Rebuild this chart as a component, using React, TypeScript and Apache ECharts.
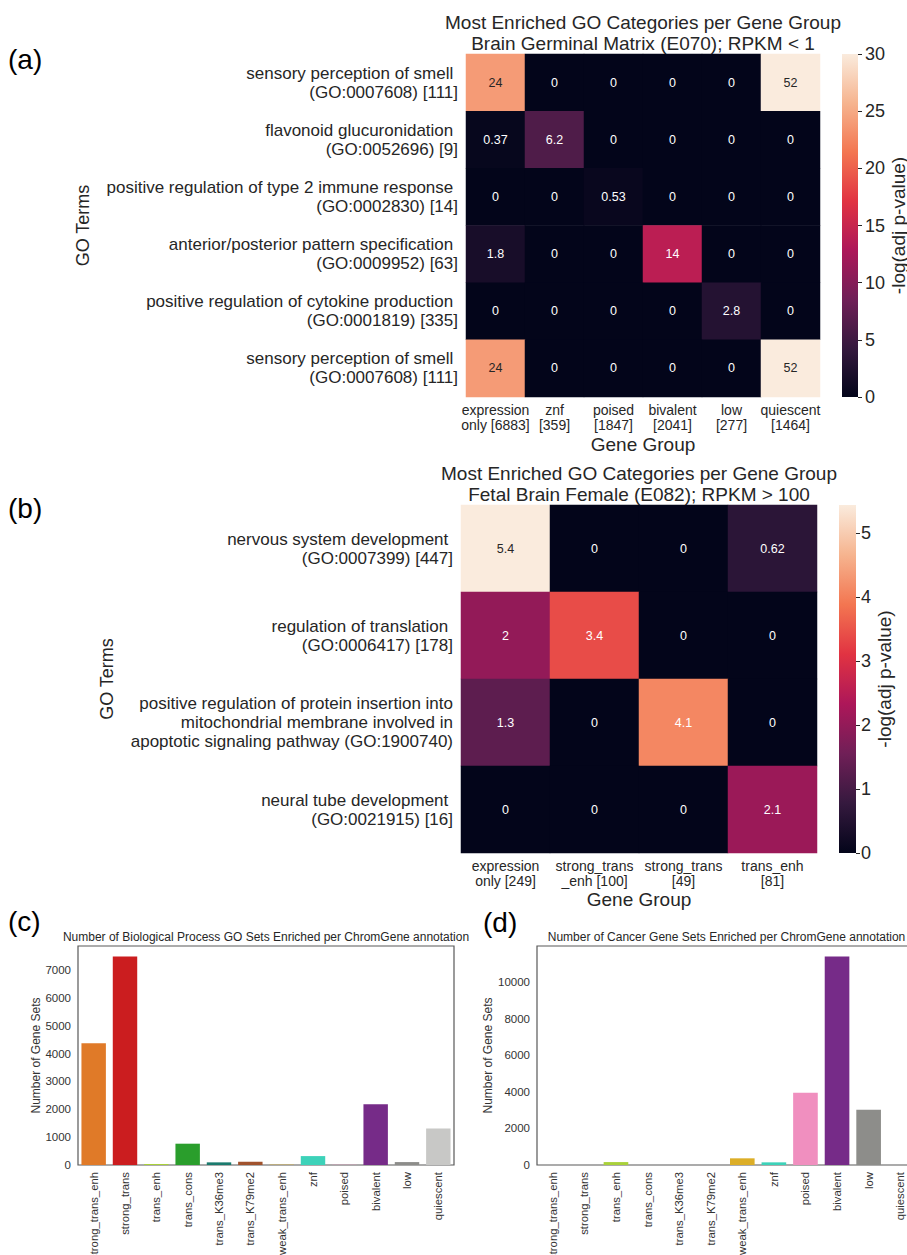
import React, { useEffect, useRef } from "react";
import * as echarts from "echarts";

const FONT = "'Liberation Sans', Arial, Helvetica, sans-serif";
const TEXT = "#262626";
const AXIS_TEXT = "#333333";

// seaborn "rocket" colormap, sampled evenly (0, 1/7, ..., 1)
const rocketStops = ["#03051a", "#35193e", "#701f57", "#ad1759", "#e13342", "#f37651", "#f6b48f", "#faebdd"];

// ---- Panel (a) ----
const aGroups = [
  "expression\nonly [6883]",
  "znf\n[359]",
  "poised\n[1847]",
  "bivalent\n[2041]",
  "low\n[277]",
  "quiescent\n[1464]",
];
const aTerms = [
  "sensory perception of smell \n(GO:0007608) [111]",
  "flavonoid glucuronidation \n(GO:0052696) [9]",
  "positive regulation of type 2 immune response \n(GO:0002830) [14]",
  "anterior/posterior pattern specification \n(GO:0009952) [63]",
  "positive regulation of cytokine production \n(GO:0001819) [335]",
  "sensory perception of smell \n(GO:0007608) [111]",
];
const aValues = [
  [24, 0, 0, 0, 0, 52],
  [0.37, 6.2, 0, 0, 0, 0],
  [0, 0, 0.53, 0, 0, 0],
  [1.8, 0, 0, 14, 0, 0],
  [0, 0, 0, 0, 2.8, 0],
  [24, 0, 0, 0, 0, 52],
];
const aColorMax = 30;
const aColorTicks = [0, 5, 10, 15, 20, 25, 30];

// ---- Panel (b) ----
const bGroups = ["expression\nonly [249]", "strong_trans\n_enh [100]", "strong_trans\n[49]", "trans_enh\n[81]"];
const bTerms = [
  "nervous system development \n(GO:0007399) [447]",
  "regulation of translation \n(GO:0006417) [178]",
  "positive regulation of protein insertion into\nmitochondrial membrane involved in\napoptotic signaling pathway (GO:1900740)",
  "neural tube development \n(GO:0021915) [16]",
];
const bValues = [
  [5.44, 0, 0, 0.62],
  [2, 3.4, 0, 0],
  [1.3, 0, 4.1, 0],
  [0, 0, 0, 2.1],
];
const bColorMax = 5.44;
const bColorTicks = [0, 1, 2, 3, 4, 5];

// ---- Panels (c) and (d) ----
const chromCategories = [
  "strong_trans_enh", "strong_trans", "trans_enh", "trans_cons", "trans_K36me3", "trans_K79me2",
  "weak_trans_enh", "znf", "poised", "bivalent", "low", "quiescent",
];
const chromColors = [
  "#e07a28", "#cb1d1f", "#a9d13a", "#2a9e2c", "#1b7a6e", "#a0522d",
  "#dcae27", "#3dd2b9", "#f08fbf", "#762b88", "#8d8d8a", "#c8c8c6",
];
const goSetCounts = [4370, 7490, 35, 765, 95, 115, 12, 320, 8, 2180, 105, 1315];
const cancerSetCounts = [0, 0, 160, 0, 0, 0, 365, 145, 3950, 11400, 3020, 0];

const fmt2g = (v: number) => String(Number(v.toPrecision(2)));

function heatData(values: number[][], vmax: number) {
  const out: any[] = [];
  values.forEach((row, r) =>
    row.forEach((v, c) => {
      out.push({ value: [c, r, v], label: { color: v / vmax > 0.78 ? TEXT : "#ffffff" } });
    })
  );
  return out;
}

function buildOption() {
  const makeGradient = () =>
    new echarts.graphic.LinearGradient(
      0, 1, 0, 0,
      rocketStops.map((c, i) => ({ offset: i / (rocketStops.length - 1), color: c }))
    );

  const heatXAxis = (gridIndex: number, data: string[], gap: number) => ({
    type: "category",
    gridIndex,
    data,
    position: "bottom",
    axisLine: { show: false },
    axisTick: { show: false },
    splitLine: { show: false },
    axisLabel: { interval: 0, fontSize: 14, lineHeight: 15, color: TEXT, fontFamily: FONT, margin: 5 },
    name: "Gene Group",
    nameLocation: "middle",
    nameGap: gap,
    nameTextStyle: { fontSize: 19, color: TEXT, fontFamily: FONT },
  });
  const heatYAxis = (gridIndex: number, data: string[], gap: number) => ({
    type: "category",
    gridIndex,
    data,
    inverse: true,
    axisLine: { show: false },
    axisTick: { show: false },
    splitLine: { show: false },
    axisLabel: { interval: 0, fontSize: 17, lineHeight: 19, color: TEXT, fontFamily: FONT, margin: 8 },
    name: "GO Terms",
    nameLocation: "middle",
    nameRotate: 90,
    nameGap: gap,
    nameTextStyle: { fontSize: 18, color: TEXT, fontFamily: FONT },
  });
  const cbYAxis = (gridIndex: number, max: number, ticks: number[], gap: number, margin: number) => ({
    type: "value",
    gridIndex,
    position: "right",
    min: 0,
    max,
    axisLine: { show: false },
    splitLine: { show: false },
    axisTick: { show: true, length: 4, lineStyle: { color: TEXT, width: 1 }, customValues: ticks },
    axisLabel: { customValues: ticks, fontSize: 18, color: TEXT, fontFamily: FONT, margin },
    name: "-log(adj p-value)",
    nameLocation: "middle",
    nameRotate: 90,
    nameGap: gap,
    nameTextStyle: { fontSize: 19, color: TEXT, fontFamily: FONT },
  });
  const barXAxis = (gridIndex: number) => ({
    type: "category",
    gridIndex,
    data: chromCategories,
    axisLine: { show: false },
    axisTick: { show: false },
    splitLine: { show: false },
    axisLabel: { interval: 0, rotate: 90, fontSize: 11.3, color: AXIS_TEXT, fontFamily: FONT, margin: 7 },
  });
  const barYAxis = (gridIndex: number, values: number[], interval: number, gap: number, fs: number) => ({
    type: "value",
    gridIndex,
    min: 0,
    max: Math.max(...values) * 1.05,
    interval,
    axisLine: { show: false },
    axisTick: { show: false },
    splitLine: { show: false },
    axisLabel: {
      fontSize: fs,
      color: AXIS_TEXT,
      fontFamily: FONT,
      margin: 7,
      showMaxLabel: false,
      formatter: (v: number) => String(v),
    },
    name: "Number of Gene Sets",
    nameLocation: "middle",
    nameRotate: 90,
    nameGap: gap,
    nameTextStyle: { fontSize: 12, color: AXIS_TEXT, fontFamily: FONT },
  });

  const txt = (text: string, x: number, y: number, fontSize: number, align = "left", lineHeight?: number, fill = "#000") => ({
    type: "text",
    x,
    y,
    silent: true,
    style: {
      text,
      fontSize,
      fontFamily: FONT,
      fill,
      align,
      verticalAlign: "middle",
      lineHeight: lineHeight ?? Math.round(fontSize * 1.15),
    },
  });

  const g = (o: any) => ({ outerBoundsMode: "none", containLabel: false, ...o });

  return {
    animation: false,
    backgroundColor: "#ffffff",
    textStyle: { fontFamily: FONT },
    grid: [
      g({ left: 466, top: 54, width: 354, height: 343 }),
      g({ left: 842, top: 54, width: 16, height: 343 }),
      g({ left: 461, top: 505, width: 356, height: 348 }),
      g({ left: 839, top: 505, width: 17, height: 348 }),
      g({ left: 78, top: 946, width: 376, height: 219, show: true, borderColor: "#595959", borderWidth: 1.2, backgroundColor: "transparent" }),
      g({ left: 537, top: 946, width: 379, height: 219, show: true, borderColor: "#595959", borderWidth: 1.2, backgroundColor: "transparent" }),
    ],
    xAxis: [
      heatXAxis(0, aGroups, 38),
      { type: "category", gridIndex: 1, data: ["cb"], show: false },
      heatXAxis(2, bGroups, 37),
      { type: "category", gridIndex: 3, data: ["cb"], show: false },
      barXAxis(4),
      barXAxis(5),
    ],
    yAxis: [
      heatYAxis(0, aTerms, 374),
      cbYAxis(1, aColorMax, aColorTicks, 24, 7),
      heatYAxis(2, bTerms, 345),
      cbYAxis(3, bColorMax, bColorTicks, 19, 5),
      barYAxis(4, goSetCounts, 1000, 35, 11.5),
      barYAxis(5, cancerSetCounts, 2000, 41, 11.5),
    ],
    visualMap: [
      { type: "continuous", show: false, seriesIndex: 0, min: 0, max: aColorMax, dimension: 2, inRange: { color: rocketStops } },
      { type: "continuous", show: false, seriesIndex: 2, min: 0, max: bColorMax, dimension: 2, inRange: { color: rocketStops } },
    ],
    series: [
      {
        type: "heatmap",
        xAxisIndex: 0,
        yAxisIndex: 0,
        data: heatData(aValues, aColorMax),
        label: { show: true, fontSize: 12.5, fontFamily: FONT, formatter: (p: any) => fmt2g(p.value[2]) },
        emphasis: { disabled: true },
      },
      {
        type: "bar",
        xAxisIndex: 1,
        yAxisIndex: 1,
        data: [aColorMax],
        barWidth: "100%",
        itemStyle: { color: makeGradient() },
        silent: true,
      },
      {
        type: "heatmap",
        xAxisIndex: 2,
        yAxisIndex: 2,
        data: heatData(bValues, bColorMax),
        label: { show: true, fontSize: 12.5, fontFamily: FONT, formatter: (p: any) => fmt2g(p.value[2]) },
        emphasis: { disabled: true },
      },
      {
        type: "bar",
        xAxisIndex: 3,
        yAxisIndex: 3,
        data: [bColorMax],
        barWidth: "100%",
        itemStyle: { color: makeGradient() },
        silent: true,
      },
      {
        type: "bar",
        xAxisIndex: 4,
        yAxisIndex: 4,
        data: goSetCounts,
        barWidth: "78%",
        itemStyle: { color: (p: any) => chromColors[p.dataIndex] },
      },
      {
        type: "bar",
        xAxisIndex: 5,
        yAxisIndex: 5,
        data: cancerSetCounts,
        barWidth: "78%",
        itemStyle: { color: (p: any) => chromColors[p.dataIndex] },
      },
    ],
    graphic: [
      txt("(a)", 8, 59.5, 28),
      txt("(b)", 8, 508, 28),
      txt("(c)", 8, 921, 28),
      txt("(d)", 483, 922, 28),
      txt("Most Enriched GO Categories per Gene Group\nBrain Germinal Matrix (E070); RPKM < 1", 643, 32.5, 19, "center", 21, TEXT),
      txt("Most Enriched GO Categories per Gene Group\nFetal Brain Female (E082); RPKM > 100", 639, 483.5, 19, "center", 21, TEXT),
      txt("Number of Biological Process GO Sets Enriched per ChromGene annotation", 266, 937, 12, "center", 14, TEXT),
      txt("Number of Cancer Gene Sets Enriched per ChromGene annotation", 726.5, 937, 12, "center", 14, TEXT),
    ],
  };
}

export default function App() {
  const ref = useRef<HTMLDivElement>(null);
  useEffect(() => {
    document.body.style.margin = "0";
    document.body.style.overflow = "hidden";
    if (!ref.current) return;
    const chart = echarts.init(ref.current, null, { renderer: "svg" });
    chart.setOption(buildOption() as any);
    return () => chart.dispose();
  }, []);
  return <div ref={ref} style={{ width: 907, height: 1255, overflow: "hidden", background: "#fff" }} />;
}
